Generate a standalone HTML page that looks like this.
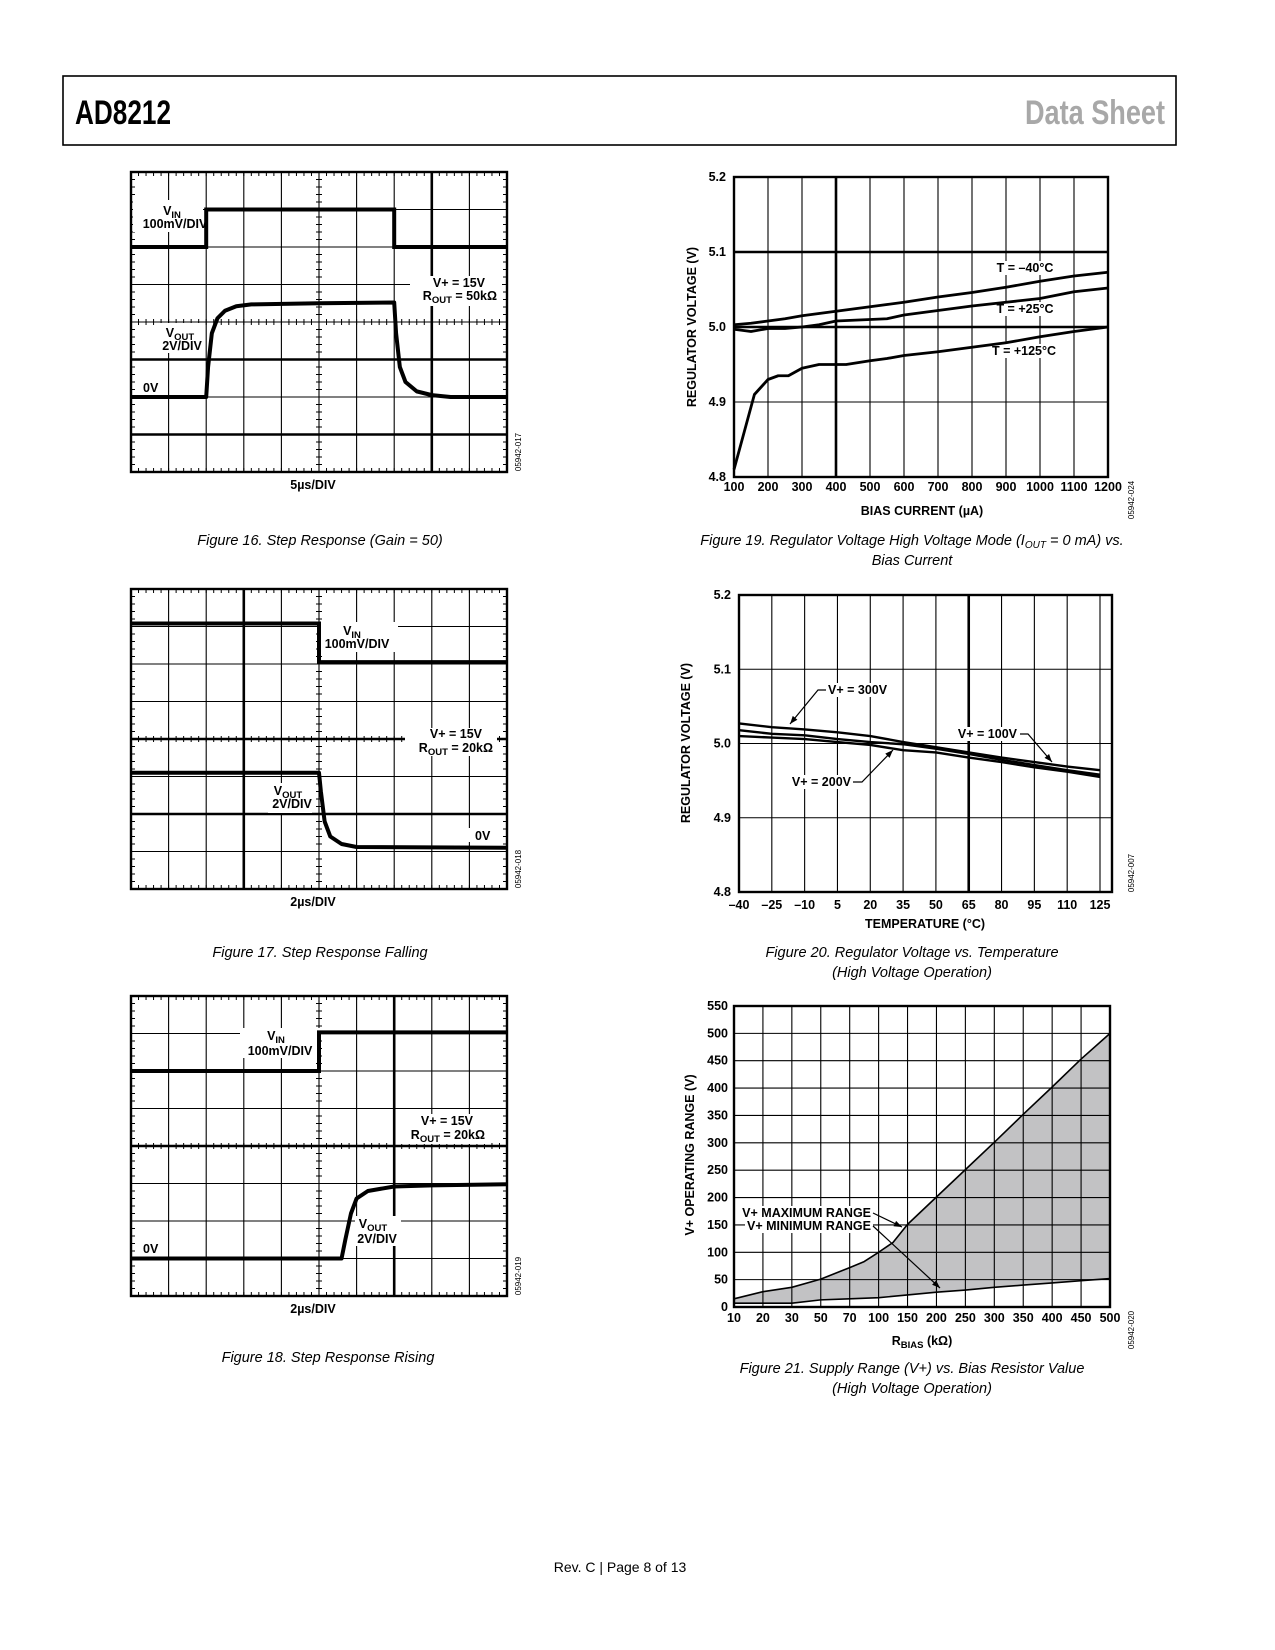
<!DOCTYPE html>
<html><head><meta charset="utf-8"><style>
html,body{margin:0;padding:0;background:#fff;}
svg{display:block;}
text{font-family:"Liberation Sans",Arial,sans-serif;}
.b{font-weight:bold;font-size:12.5px;}
.cap{font-style:italic;font-size:14.5px;}
</style></head><body>
<svg id="pg" width="1275" height="1650" viewBox="0 0 1275 1650" xmlns="http://www.w3.org/2000/svg">
<rect x="63" y="76" width="1113" height="69" fill="none" stroke="#000" stroke-width="1.6"/>
<text x="75" y="124" font-weight="bold" font-size="34" textLength="96" lengthAdjust="spacingAndGlyphs">AD8212</text>
<text x="1025" y="124" fill="#a8a8a8" font-weight="bold" font-size="34" textLength="140" lengthAdjust="spacingAndGlyphs">Data Sheet</text>
<g id="content"></g>
<text x="620" y="1572" text-anchor="middle" font-size="14">Rev. C | Page 8 of 13</text>
</svg>
<script>
// ===== Scope figure data (division units: x 0..10, y 0..8 from top) =====
const f16Vin = [[0,2],[2,2],[2,1],[7,1],[7,2],[10,2]];
const f16Vout = [[0,6],[2,6],[2.05,5.2],[2.15,4.3],[2.3,3.9],[2.5,3.7],[2.8,3.58],[3.2,3.53],[5,3.5],[7,3.48],[7.05,4.3],[7.15,5.2],[7.3,5.6],[7.6,5.85],[8,5.95],[8.5,6],[10,6]];
const f17Vin = [[0,0.92],[5,0.92],[5,1.95],[10,1.95]];
const f17Vout = [[0,4.9],[5,4.9],[5.05,5.4],[5.15,6.2],[5.3,6.6],[5.6,6.8],[6,6.88],[10,6.9]];
const f18Vin = [[0,2],[5,2],[5,0.97],[10,0.97]];
const f18Vout = [[0,7],[5.6,7],[5.7,6.5],[5.85,5.8],[6,5.4],[6.3,5.2],[7,5.08],[8,5.05],[10,5.02]];

// ===== Figure 19 data =====
const f19Ticks = [100,200,300,400,500,600,700,800,900,1000,1100,1200];
const f19YTicks = ["5.2","5.1","5.0","4.9","4.8"];
const f19X = [100,150,200,250,300,350,400,450,500,550,600,700,800,900,1000,1100,1200];
const f19Tm40 = [5.003,5.005,5.008,5.011,5.015,5.018,5.021,5.024,5.027,5.030,5.033,5.040,5.046,5.053,5.061,5.068,5.073];
const f19T25 = [4.997,4.994,4.998,4.998,5.0,5.003,5.008,5.009,5.010,5.011,5.016,5.022,5.028,5.033,5.038,5.047,5.052];
const f19X125 = [100,130,160,200,230,260,300,350,400,430,500,550,600,700,800,900,1000,1100,1200];
const f19T125 = [4.81,4.86,4.91,4.93,4.935,4.935,4.945,4.95,4.95,4.95,4.955,4.958,4.962,4.967,4.973,4.979,4.987,4.994,5.0];

// ===== Figure 20 data =====
const f20Ticks = [-40,-25,-10,5,20,35,50,65,80,95,110,125];
const f20X = [-40,-25,-10,5,20,35,50,65,80,95,110,125];
const f20V300 = [5.027,5.022,5.019,5.015,5.010,5.002,4.995,4.988,4.981,4.975,4.969,4.964];
const f20V100 = [5.018,5.013,5.011,5.006,5.002,4.999,4.993,4.986,4.978,4.971,4.964,4.958];
const f20V200 = [5.010,5.008,5.006,5.002,4.998,4.991,4.988,4.981,4.975,4.968,4.962,4.955];

// ===== Figure 21 data =====
const f21Cats = [10,20,30,50,70,100,150,200,250,300,350,400,450,500];
const f21YTicks = [550,500,450,400,350,300,250,200,150,100,50,0];
const f21MaxX = [10,20,30,50,70,85,100,125,150,200,250,300,350,400,450,500];
const f21MaxY = [15,28,36,51,72,83,100,118,151,201,251,301,352,402,453,500];
const f21MinX = [10,20,30,50,70,100,150,200,250,300,350,400,450,500];
const f21MinY = [7,7,7,13,15,17,22,27,31,36,40,44,48,52];

const NS="http://www.w3.org/2000/svg";
const root=document.getElementById('content');
function mk(tag,attrs,parent){const e=document.createElementNS(NS,tag);for(const k in attrs)e.setAttribute(k,attrs[k]);(parent||root).appendChild(e);return e;}
function txt(x,y,s,cls,anchor,parent){const t=mk('text',{x:x,y:y,'text-anchor':anchor||'start'},parent);if(cls)t.setAttribute('class',cls);t.textContent=s;return t;}
function line(x1,y1,x2,y2,w,parent){return mk('line',{x1:x1,y1:y1,x2:x2,y2:y2,stroke:'#000','stroke-width':w},parent);}

// ---------- Scope figures ----------
function scope(name,X0,Y0,thickV,thickH,vin,vout,labels,timeLabel,code){
  const g=mk('g',{});
  
  
  const W=376,H=300,dx=W/10,dy=H/8;
  const sx=d=>X0+d*dx, sy=d=>Y0+d*dy;
  for(let i=1;i<10;i++){line(sx(i),Y0,sx(i),Y0+H,thickV.includes(i)?2.6:1.1,g);}
  for(let j=1;j<8;j++){line(X0,sy(j),X0+W,sy(j),thickH.includes(j)?2.6:1.1,g);}
  for(let k=1;k<50;k++){const x=X0+k*dx/5;line(x,Y0,x,Y0+4,1,g);line(x,Y0+H,x,Y0+H-4,1,g);line(x,sy(4)-3,x,sy(4)+3,1,g);}
  for(let k=1;k<40;k++){const y=Y0+k*dy/5;line(X0,y,X0+4,y,1,g);line(X0+W,y,X0+W-4,y,1,g);line(sx(5)-3,y,sx(5)+3,y,1,g);}
  mk('rect',{x:X0,y:Y0,width:W,height:H,fill:'none',stroke:'#000','stroke-width':2.4},g);
  labels.forEach(l=>{
    mk('rect',{x:l.bx,y:l.by,width:l.bw,height:l.bh,fill:'#fff'},g);
  });
  const pv=mk('polyline',{points:vin.map(p=>sx(p[0])+','+sy(p[1])).join(' '),fill:'none',stroke:'#000','stroke-width':4},g);
  
  
  const po=mk('polyline',{points:vout.map(p=>sx(p[0])+','+sy(p[1])).join(' '),fill:'none',stroke:'#000','stroke-width':4,'stroke-linejoin':'round'},g);
  
  
  labels.forEach(l=>{
    l.lines.forEach(L=>{
      const t=mk('text',{x:L[0],y:L[1],'text-anchor':L[3]||'middle',class:'b'},g);
      t.innerHTML=L[2];
    });
  });
  txt(X0+W/2-6,Y0+H+17,timeLabel,'b','middle',g);
  const c=mk('text',{x:0,y:0,'font-size':8,'text-anchor':'middle',transform:`translate(${X0+W+14},${Y0+H-20}) rotate(-90)`},g);
  c.textContent=code;
}
const sub=s=>`<tspan font-size="9.5" dy="3">${s}</tspan>`;
scope('figure-16-step-response',131,172,[8],[5,7],f16Vin,f16Vout,[
  {bx:133,by:200,bw:70,bh:32,lines:[[172,215,'V'+sub('IN')],[175,228,'<tspan dy="0">100mV/DIV</tspan>']]},
  {bx:410,by:276,bw:92,bh:30,lines:[[485,287,'V+ = 15V','end'],[497,300,'R'+sub('OUT')+'<tspan dy="-3"> = 50kΩ</tspan>','end']]},
  {bx:160,by:323,bw:45,bh:30,lines:[[180,337,'V'+sub('OUT')],[182,350,'2V/DIV']]},
  {bx:137,by:380,bw:22,bh:14,lines:[[143,392,'0V','start']]}
],'5µs/DIV','05942-017');
scope('figure-17-step-falling',131,589,[3],[4,6],f17Vin,f17Vout,[
  {bx:318,by:622,bw:80,bh:30,lines:[[352,635,'V'+sub('IN')],[357,648,'100mV/DIV']]},
  {bx:405,by:728,bw:92,bh:28,lines:[[482,738,'V+ = 15V','end'],[493,752,'R'+sub('OUT')+'<tspan dy="-3"> = 20kΩ</tspan>','end']]},
  {bx:268,by:783,bw:44,bh:30,lines:[[288,795,'V'+sub('OUT')],[292,808,'2V/DIV']]},
  {bx:468,by:828,bw:24,bh:14,lines:[[475,840,'0V','start']]}
],'2µs/DIV','05942-018');
scope('figure-18-step-rising',131,996,[7],[4],f18Vin,f18Vout,[
  {bx:240,by:1028,bw:80,bh:30,lines:[[276,1040,'V'+sub('IN')],[280,1055,'100mV/DIV']]},
  {bx:398,by:1114,bw:92,bh:30,lines:[[473,1125,'V+ = 15V','end'],[485,1139,'R'+sub('OUT')+'<tspan dy="-3"> = 20kΩ</tspan>','end']]},
  {bx:355,by:1216,bw:46,bh:30,lines:[[373,1228,'V'+sub('OUT')],[377,1243,'2V/DIV']]},
  {bx:137,by:1241,bw:22,bh:14,lines:[[143,1253,'0V','start']]}
],'2µs/DIV','05942-019');

function frame(g,X0,Y0,X1,Y1){mk('rect',{x:X0,y:Y0,width:X1-X0,height:Y1-Y0,fill:'none',stroke:'#000','stroke-width':2.4},g);}
function ytitle(g,x,y,s){const t=mk('text',{x:0,y:0,class:'b','text-anchor':'middle',transform:`translate(${x},${y}) rotate(-90)`},g);t.innerHTML=s;return t;}
function code(g,x,y,s){const t=mk('text',{x:0,y:0,'font-size':8,'text-anchor':'middle',transform:`translate(${x},${y}) rotate(-90)`},g);t.textContent=s;}
function series(g,xs,ys,fx,fy,w,name){
  const p=mk('polyline',{points:xs.map((x,i)=>fx(x)+','+fy(ys[i])).join(' '),fill:'none',stroke:'#000','stroke-width':w,'stroke-linejoin':'round'},g);
  
  
}
function arrowLine(g,pts){
  mk('polyline',{points:pts.map(p=>p.join(',')).join(' '),fill:'none',stroke:'#000','stroke-width':1.2},g);
  const a=pts[pts.length-2],b=pts[pts.length-1];const ang=Math.atan2(b[1]-a[1],b[0]-a[0]);
  const L=8,Wd=3;const p1=[b[0]-L*Math.cos(ang)+Wd*Math.sin(ang),b[1]-L*Math.sin(ang)-Wd*Math.cos(ang)],p2=[b[0]-L*Math.cos(ang)-Wd*Math.sin(ang),b[1]-L*Math.sin(ang)+Wd*Math.cos(ang)];
  mk('polygon',{points:[b,p1,p2].map(p=>p.join(',')).join(' '),fill:'#000'},g);
}
function label(g,x,y,s,anchor,bw){
  const w=bw||(s.length*7.2);const bx=anchor==='end'?x-w:(anchor==='middle'?x-w/2:x);
  mk('rect',{x:bx-2,y:y-11,width:w+4,height:14,fill:'#fff'},g);
  txt(x,y,s,'b',anchor||'start',g);
}

// ---------- Figure 19 ----------
(function(){
  const g=mk('g',{});
  
  
  const X0=734,X1=1108,Y0=177,Y1=477;
  const fx=v=>X0+(v-100)/1100*(X1-X0), fy=v=>Y1-(v-4.8)/0.4*(Y1-Y0);
  f19Ticks.forEach(t=>{line(fx(t),Y0,fx(t),Y1,t===400?2.6:1.1,g);txt(fx(t),491,String(t),'b','middle',g);});
  f19YTicks.forEach(t=>{const v=parseFloat(t);line(X0,fy(v),X1,fy(v),(t==='5.1'||t==='5.0')?2.6:1.1,g);txt(X0-8,fy(v)+4,t,'b','end',g);});
  frame(g,X0,Y0,X1,Y1);
  label(g,1025,272,'T = –40°C','middle',58);
  label(g,1025,313,'T = +25°C','middle',58);
  label(g,1024,355,'T = +125°C','middle',64);
  series(g,f19X,f19Tm40,fx,fy,2.8,'series-t-minus40');
  series(g,f19X,f19T25,fx,fy,2.8,'series-t-25');
  series(g,f19X125,f19T125,fx,fy,2.8,'series-t-125');
  ytitle(g,696,327,'REGULATOR VOLTAGE (V)');
  txt(922,515,'BIAS CURRENT (µA)','b','middle',g);
  code(g,1134,500,'05942-024');
})();

// ---------- Figure 20 ----------
(function(){
  const g=mk('g',{});
  
  
  const X0=739,X1=1112,Y0=595,Y1=892;
  const pxPer=(1100-739)/165;
  const fx=v=>X0+(v+40)*pxPer, fy=v=>Y1-(v-4.8)/0.4*(Y1-Y0);
  f20Ticks.forEach(t=>{if(t>-40)line(fx(t),Y0,fx(t),Y1,t===65?2.6:1.1,g);txt(fx(t),909,t<0?'–'+Math.abs(t):String(t),'b','middle',g);});
  f19YTicks.forEach(t=>{const v=parseFloat(t);line(X0,fy(v),X1,fy(v),1.1,g);txt(X0-8,fy(v)+4,t,'b','end',g);});
  frame(g,X0,Y0,X1,Y1);
  series(g,f20X,f20V300,fx,fy,2.4,'series-v300');
  series(g,f20X,f20V100,fx,fy,2.4,'series-v100');
  series(g,f20X,f20V200,fx,fy,2.4,'series-v200');
  label(g,828,694,'V+ = 300V','start',60);
  label(g,1017,738,'V+ = 100V','end',60);
  label(g,851,786,'V+ = 200V','end',60);
  arrowLine(g,[[826,690],[818,690],[790,724]]);
  arrowLine(g,[[1020,734],[1028,734],[1052,762]]);
  arrowLine(g,[[853,782],[862,782],[893,750]]);
  ytitle(g,690,743,'REGULATOR VOLTAGE (V)');
  txt(925,928,'TEMPERATURE (°C)','b','middle',g);
  code(g,1134,873,'05942-007');
})();

// ---------- Figure 21 ----------
(function(){
  const g=mk('g',{});
  
  
  const X0=734,X1=1110,Y0=1006,Y1=1307;
  const step=(X1-X0)/(f21Cats.length-1);
  const fx=v=>{for(let i=0;i<f21Cats.length-1;i++){if(v<=f21Cats[i+1]){return X0+(i+(v-f21Cats[i])/(f21Cats[i+1]-f21Cats[i]))*step;}}return X1;};
  const fy=v=>Y1-v/550*(Y1-Y0);
  const poly=f21MaxX.map((x,i)=>fx(x)+','+fy(f21MaxY[i])).concat(f21MinX.slice().reverse().map((x,i,a)=>fx(x)+','+fy(f21MinY[f21MinY.length-1-i])));
  const area=mk('polygon',{points:poly.join(' '),fill:'#c2c2c4',stroke:'none'},g);
  
  
  f21Cats.forEach((c,i)=>{line(fx(c),Y0,fx(c),Y1,1.1,g);txt(fx(c),1322,String(c),'b','middle',g);});
  f21YTicks.forEach(t=>{line(X0,fy(t),X1,fy(t),1.1,g);txt(X0-6,fy(t)+4,String(t),'b','end',g);});
  series(g,f21MaxX,f21MaxY,fx,fy,1.6,'series-max-range');
  series(g,f21MinX,f21MinY,fx,fy,1.6,'series-min-range');
  frame(g,X0,Y0,X1,Y1);
  label(g,871,1217,'V+ MAXIMUM RANGE','end',128);
  label(g,871,1230,'V+ MINIMUM RANGE','end',124);
  arrowLine(g,[[873,1213],[902,1227]]);
  arrowLine(g,[[873,1226],[940,1288]]);
  ytitle(g,694,1155,'V+ OPERATING RANGE (V)');
  const t=mk('text',{x:922,y:1345,class:'b','text-anchor':'middle'},g);
  t.innerHTML='R<tspan font-size="9.5" dy="3">BIAS</tspan><tspan dy="-3"> (kΩ)</tspan>';
  code(g,1134,1330,'05942-020');
})();

const caps=[[320,545,'Figure 16. Step Response (Gain = 50)'],[320,957,'Figure 17. Step Response Falling'],[328,1362,'Figure 18. Step Response Rising'],
 [912,545,'Figure 19. Regulator Voltage High Voltage Mode (I<tspan font-size="10" dy="3">OUT</tspan><tspan dy="-3"> = 0 mA) vs.</tspan>'],[912,565,'Bias Current'],
 [912,957,'Figure 20. Regulator Voltage vs. Temperature'],[912,977,'(High Voltage Operation)'],
 [912,1373,'Figure 21. Supply Range (V+) vs. Bias Resistor Value'],[912,1393,'(High Voltage Operation)']];
caps.forEach(c=>{const t=mk('text',{x:c[0],y:c[1],class:'cap','text-anchor':'middle'});t.innerHTML=c[2];});
</script>
</body></html>
